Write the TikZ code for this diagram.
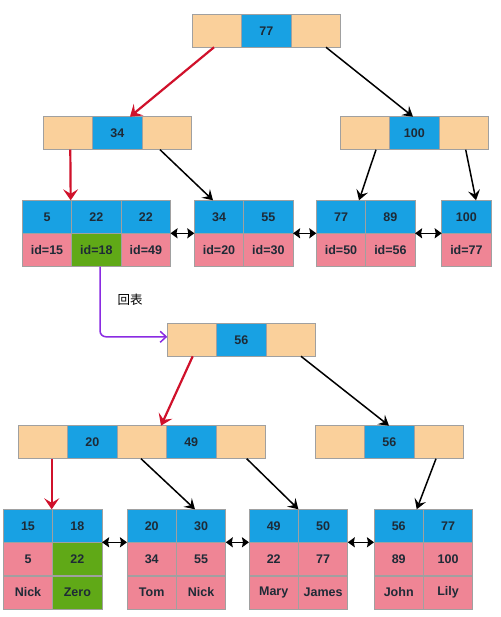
\documentclass[tikz,border=0pt]{standalone}
\usepackage{fontspec}
\setmainfont{Liberation Sans}
\newfontfamily\cjkfont{Noto Sans CJK SC}
\usetikzlibrary{arrows.meta,calc}
\definecolor{cOr}{HTML}{FAD09B}
\definecolor{cBl}{HTML}{18A1E3}
\definecolor{cPk}{HTML}{EF8595}
\definecolor{cGr}{HTML}{60A917}
\definecolor{cRd}{HTML}{D0112B}
\definecolor{cPu}{HTML}{8A2BE2}
\definecolor{cTx}{HTML}{1E2A36}
\definecolor{cBd}{HTML}{A0A0A0}
\newcommand\cellnode[5]{\node[cellbox,fill=#2] (#1) at (#3,#4) {#5};}
\tikzset{
  cellbox/.style={draw=cBd, line width=0.8pt, minimum width=49.4pt, minimum height=33pt,
    inner sep=0pt, outer sep=0pt, anchor=north west, text=cTx,
    font=\fontsize{12.5}{14}\selectfont\bfseries},
  redarrow/.style={draw=cRd, line width=2.2pt, -{Stealth[length=11pt,width=15pt,inset=4.5pt]}},
  blkarrow/.style={draw=black, line width=1.5pt, -{Stealth[length=10pt,width=12pt,inset=4pt]}},
  linkarrow/.style={draw=black, line width=1.5pt, {Stealth[length=7pt,width=10pt,inset=1pt]}-{Stealth[length=7pt,width=10pt,inset=1pt]}},
  backarrow/.style={draw=cPu, line width=1.5pt, rounded corners=6pt, -{Straight Barb[length=6pt,width=11pt]}},
  lbl/.style={font=\cjkfont\fontsize{12.5}{14}\selectfont, text=black, inner sep=0pt}
}
\begin{document}
\begin{tikzpicture}[x=1pt,y=-1pt]
\useasboundingbox (0,0) rectangle (500,617);
\fill[white] (0,0) rectangle (500,617);
% ---------- Tree 1 ----------
\cellnode{ra}{cOr}{192.3}{14.3}{}
\cellnode{rb}{cBl}{241.7}{14.3}{77}
\cellnode{rc}{cOr}{291.1}{14.3}{}
\cellnode{pa}{cOr}{43.3}{116.7}{}
\cellnode{pb}{cBl}{92.7}{116.7}{34}
\cellnode{pc}{cOr}{142.1}{116.7}{}
\cellnode{qa}{cOr}{340.3}{116.7}{}
\cellnode{qb}{cBl}{389.7}{116.7}{100}
\cellnode{qc}{cOr}{439.1}{116.7}{}
% leaves
\cellnode{aa1}{cBl}{22.3}{200.3}{5}
\cellnode{aa2}{cPk}{22.3}{233.5}{id=15}
\cellnode{ab1}{cBl}{71.7}{200.3}{22}
\cellnode{ab2}{cGr}{71.7}{233.5}{id=18}
\cellnode{ac1}{cBl}{121.1}{200.3}{22}
\cellnode{ac2}{cPk}{121.1}{233.5}{id=49}
\cellnode{ba1}{cBl}{194.3}{200.3}{34}
\cellnode{ba2}{cPk}{194.3}{233.5}{id=20}
\cellnode{bb1}{cBl}{243.7}{200.3}{55}
\cellnode{bb2}{cPk}{243.7}{233.5}{id=30}
\cellnode{ca1}{cBl}{316.3}{200.3}{77}
\cellnode{ca2}{cPk}{316.3}{233.5}{id=50}
\cellnode{cb1}{cBl}{365.7}{200.3}{89}
\cellnode{cb2}{cPk}{365.7}{233.5}{id=56}
\cellnode{da1}{cBl}{441.7}{200.3}{100}
\cellnode{da2}{cPk}{441.7}{233.5}{id=77}
% connectors tree 1
\draw[redarrow] ([xshift=21.7pt]ra.south west) -- ([xshift=37.3pt]pb.north west);
\draw[blkarrow] ([xshift=34.9pt]rc.south west) -- ([xshift=23.3pt]qb.north west);
\draw[redarrow] ([xshift=27pt]pa.south west) -- ([xshift=-1pt]aa1.north east);
\draw[blkarrow] ([xshift=17.9pt]pc.south west) -- ([xshift=18.7pt]ba1.north west);
\draw[blkarrow] ([xshift=35.7pt]qa.south west) -- ([xshift=42.7pt]ca1.north west);
\draw[blkarrow] ([xshift=26.6pt]qc.south west) -- ([xshift=34.3pt]da1.north west);
\draw[linkarrow] (ac1.south east) -- (ba1.south west);
\draw[linkarrow] (bb1.south east) -- (ca1.south west);
\draw[linkarrow] (cb1.south east) -- (da1.south west);
% ---------- Tree 2 ----------
\cellnode{sa}{cOr}{167.3}{323.3}{}
\cellnode{sb}{cBl}{216.7}{323.3}{56}
\cellnode{sc}{cOr}{266.1}{323.3}{}
\cellnode{ta}{cOr}{18.3}{425.7}{}
\cellnode{tb}{cBl}{67.7}{425.7}{20}
\cellnode{tc}{cOr}{117.1}{425.7}{}
\cellnode{td}{cBl}{166.5}{425.7}{49}
\cellnode{te}{cOr}{215.9}{425.7}{}
\cellnode{ua}{cOr}{315.3}{425.7}{}
\cellnode{ub}{cBl}{364.7}{425.7}{56}
\cellnode{uc}{cOr}{414.1}{425.7}{}
% leaves tree 2
\cellnode{ea1}{cBl}{3.3}{509.3}{15}
\cellnode{ea2}{cPk}{3.3}{542.6}{5}
\cellnode{ea3}{cPk}{3.3}{575.9}{Nick}
\cellnode{eb1}{cBl}{52.7}{509.3}{18}
\cellnode{eb2}{cGr}{52.7}{542.6}{22}
\cellnode{eb3}{cGr}{52.7}{575.9}{Zero}
\cellnode{fa1}{cBl}{127}{509.3}{20}
\cellnode{fa2}{cPk}{127}{542.6}{34}
\cellnode{fa3}{cPk}{127}{575.9}{Tom}
\cellnode{fb1}{cBl}{176.4}{509.3}{30}
\cellnode{fb2}{cPk}{176.4}{542.6}{55}
\cellnode{fb3}{cPk}{176.4}{575.9}{Nick}
\cellnode{ga1}{cBl}{249}{509.3}{49}
\cellnode{ga2}{cPk}{249}{542.6}{22}
\cellnode{ga3}{cPk}{249}{575.9}{Mary}
\cellnode{gb1}{cBl}{298.4}{509.3}{50}
\cellnode{gb2}{cPk}{298.4}{542.6}{77}
\cellnode{gb3}{cPk}{298.4}{575.9}{James}
\cellnode{ha1}{cBl}{374}{509.3}{56}
\cellnode{ha2}{cPk}{374}{542.6}{89}
\cellnode{ha3}{cPk}{374}{575.9}{John}
\cellnode{hb1}{cBl}{423.4}{509.3}{77}
\cellnode{hb2}{cPk}{423.4}{542.6}{100}
\cellnode{hb3}{cPk}{423.4}{575.9}{Lily}
% connectors tree 2
\draw[redarrow] ([xshift=25.4pt]sa.south west) -- ([xshift=43.9pt]tc.north west);
\draw[blkarrow] ([xshift=34.9pt]sc.south west) -- ([xshift=24.3pt]ub.north west);
\draw[redarrow] ([xshift=33.4pt]ta.south west) -- ([xshift=-1pt]ea1.north east);
\draw[blkarrow] ([xshift=23.9pt]tc.south west) -- ([xshift=18.6pt]fb1.north west);
\draw[blkarrow] ([xshift=30.8pt]te.south west) -- (ga1.north east);
\draw[blkarrow] ([xshift=21.9pt]uc.south west) -- ([xshift=42.7pt]ha1.north west);
\draw[linkarrow] (eb1.south east) -- (fa1.south west);
\draw[linkarrow] (fb1.south east) -- (ga1.south west);
\draw[linkarrow] (gb1.south east) -- (ha1.south west);
% back-to-table link
\draw[backarrow] ([xshift=28.3pt]ab2.south west) |- ([yshift=3pt]sa.west);
\node[lbl] (hb) at (130,300) {回表};
\end{tikzpicture}
\end{document}
